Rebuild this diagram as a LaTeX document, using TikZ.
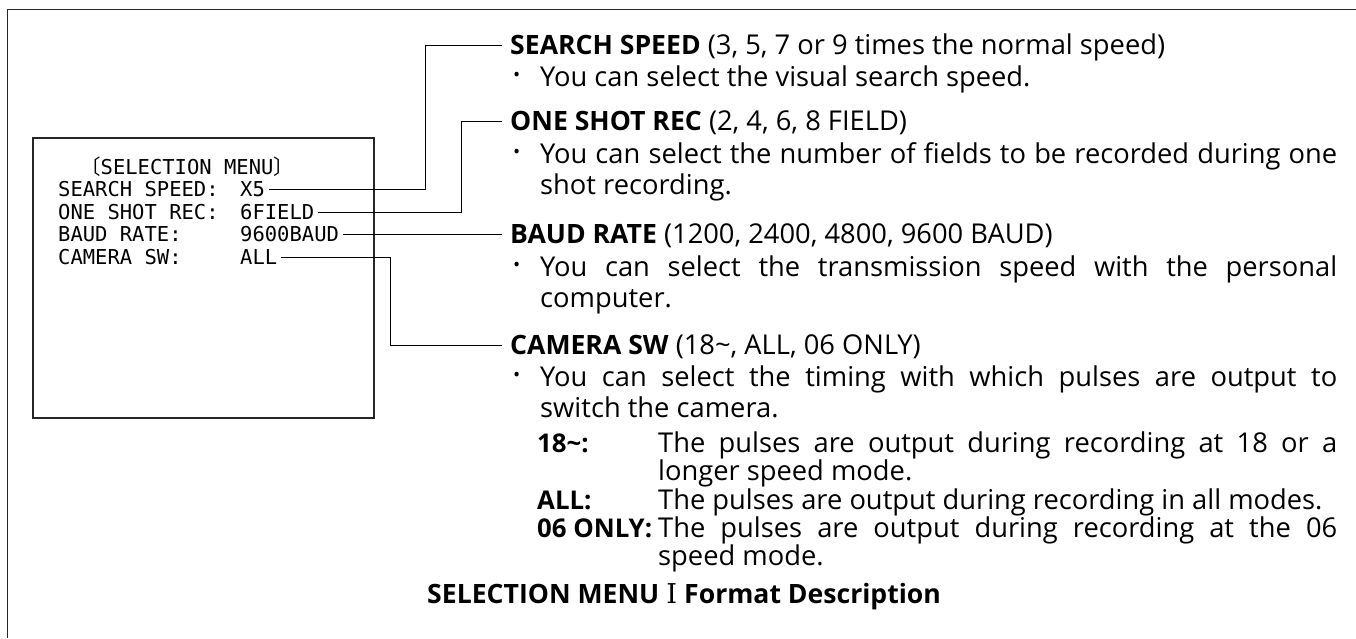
\documentclass[tikz,border=0pt]{standalone}
\usepackage{fontspec}
\setmainfont{Open Sans}
\newfontfamily\menufont{DejaVu Sans Mono}
\newfontfamily\cjkfont{Noto Sans CJK JP}
\newfontfamily\numfont{DejaVu Serif}
\newcommand\bt[1]{{\fontsize{26.6}{30}\selectfont\bfseries #1}}
\newcommand\bl[1]{{\fontsize{25.8}{30}\selectfont\bfseries #1}}
\begin{document}
\begin{tikzpicture}[x=1pt,y=-1pt,
  frame/.style={draw=black!85,line width=1.6pt},
  box/.style={draw=black!85,line width=1.3pt},
  conn/.style={draw=black,line width=1pt},
  txt/.style={anchor=west,inner sep=0pt,font=\fontsize{27.3}{31}\selectfont,text height=19.5pt,text depth=0pt},
  hd/.style={txt},
  bul/.style={anchor=west,inner sep=0pt,font=\fontsize{19}{20}\selectfont},
  mono/.style={anchor=west,inner sep=0pt,font=\menufont\fontsize{20.5}{24}\selectfont,text height=15pt,text depth=0pt}
]
\useasboundingbox (0,0) rectangle (1356,638);
% outer frame
\draw[frame] (7.5,638) -- (7.5,9.5) -- (1356,9.5);
% menu box
\draw[box] (33,138) rectangle (374,418);
% menu text
\node[mono] (mt) at (80,167) {{\cjkfont 〔}SELECTION MENU{\cjkfont 〕}};
\node[mono] (k1) at (58,189) {SEARCH SPEED:};
\node[mono] (v1) at (240,189) {X5};
\node[mono] (k2) at (58,212) {ONE SHOT REC:};
\node[mono] (v2) at (240,212) {6FIELD};
\node[mono] (k3) at (58,234) {BAUD RATE:};
\node[mono] (v3) at (240,234) {9600BAUD};
\node[mono] (k4) at (58,257) {CAMERA SW:};
\node[mono] (v4) at (240,257) {ALL};
% descriptions
\node[hd] (h1) at (510,45) {\bt{SEARCH SPEED} (3, 5, 7 or 9 times the normal speed)};
\node[bul] (b1) at (513,77) {•};
\node[txt] (t1) at (540,77) {You can select the visual search speed.};
\node[hd] (h2) at (510,121) {\bt{ONE SHOT REC} (2, 4, 6, 8 FIELD)};
\node[bul] (b2) at (513,154) {•};
\node[txt] (t2a) at (540,154) {\makebox[797pt][s]{You can select the number of fields to be recorded during one}};
\node[txt] (t2b) at (540,185) {shot recording.};
\node[hd] (h3) at (510,234) {\bt{BAUD RATE} (1200, 2400, 4800, 9600 BAUD)};
\node[bul] (b3) at (513,267) {•};
\node[txt] (t3a) at (540,267) {\makebox[797pt][s]{You can select the transmission speed with the personal}};
\node[txt] (t3b) at (540,298) {computer.};
\node[hd] (h4) at (510,345) {\bt{CAMERA SW} (18\textasciitilde, ALL, 06 ONLY)};
\node[bul] (b4) at (513,377) {•};
\node[txt] (t4a) at (540,377) {\makebox[797pt][s]{You can select the timing with which pulses are output to}};
\node[txt] (t4b) at (540,408) {switch the camera.};
\node[txt] (l1) at (537,443) {\bl{18\textasciitilde:}};
\node[txt] (d1a) at (658,443) {\makebox[679pt][s]{The pulses are output during recording at 18 or a}};
\node[txt] (d1b) at (658,471) {longer speed mode.};
\node[txt] (l2) at (537,500) {\bl{ALL:}};
\node[txt] (d2) at (658,500) {The pulses are output during recording in all modes.};
\node[txt] (l3) at (537,528) {\bl{06 ONLY:}};
\node[txt] (d3a) at (658,528) {\makebox[679pt][s]{The pulses are output during recording at the 06}};
\node[txt] (d3b) at (658,556) {speed mode.};
\node[txt] (cap) at (427,594) {\bt{SELECTION MENU} {\numfont Ⅰ} \bt{Format Description}};
% bend points
\coordinate (x1) at (425,0);
\coordinate (x2) at (461,0);
\coordinate (x4) at (390,0);
% connectors
\draw[conn,shorten <=4pt,shorten >=8pt] (v1.east) -- (v1.east -| x1) |- (h1.west);
\draw[conn,shorten <=4pt,shorten >=8pt] (v2.east) -- (v2.east -| x2) |- (h2.west);
\draw[conn,shorten <=4pt,shorten >=8pt] (v3.east) -- (v3.east -| h3.west);
\draw[conn,shorten <=4pt,shorten >=8pt] (v4.east) -- (v4.east -| x4) |- (h4.west);
\end{tikzpicture}
\end{document}
